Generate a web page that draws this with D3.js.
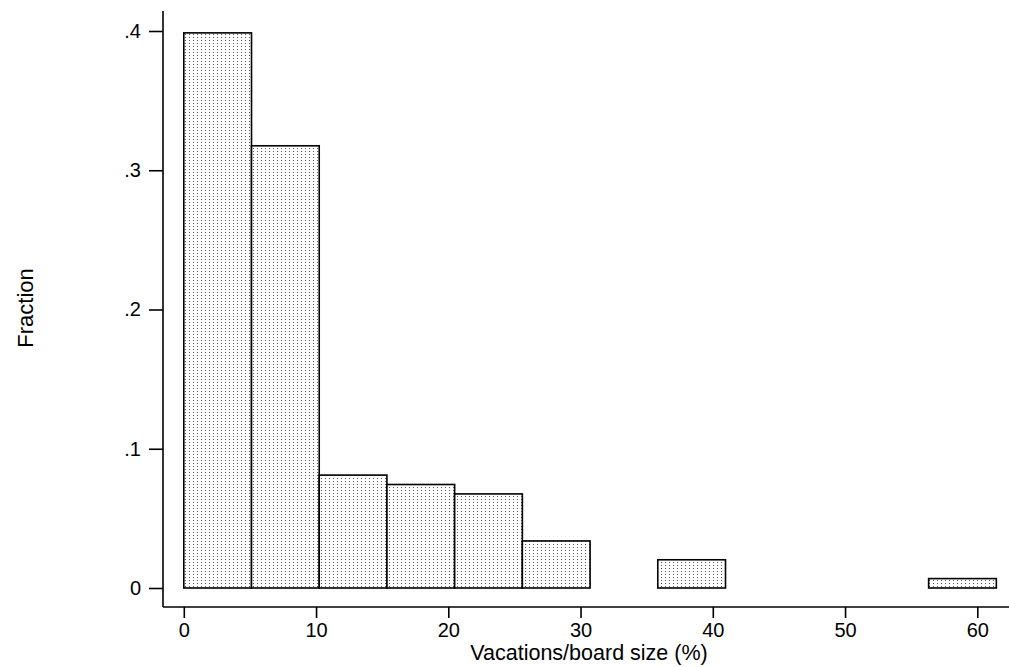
<!DOCTYPE html>
<html><head><meta charset="utf-8">
<script src="https://cdn.jsdelivr.net/npm/d3@7"></script>
<style>body{margin:0;background:#fff}svg{display:block}text{font-family:"Liberation Sans",Arial,sans-serif;fill:#000}</style>
</head><body><svg id="c" width="1009" height="667"></svg>
<script>
const binStarts = [0, 5.12, 10.24, 15.36, 20.48, 25.6, 30.72, 35.84, 40.96, 46.08, 51.2, 56.32];
const binWidth = 5.12;
const fractions = [59/148, 47/148, 12/148, 11/148, 10/148, 5/148, 0, 3/148, 0, 0, 0, 1/148];
const xTicks = [0, 10, 20, 30, 40, 50, 60];
const yTicks = [0, 0.1, 0.2, 0.3, 0.4];
const yTickLabels = ["0", ".1", ".2", ".3", ".4"];

const svg = d3.select("#c");
const x = d3.scaleLinear().domain([0, 60]).range([183.8, 977.3]);
const y = d3.scaleLinear().domain([0, 0.4]).range([588, 31]);

const defs = svg.append("defs");
const pat = defs.append("pattern").attr("id","dots").attr("patternUnits","userSpaceOnUse")
  .attr("width",4).attr("height",3);
pat.append("rect").attr("width",4).attr("height",3).attr("fill","#fff");
pat.append("rect").attr("x",1).attr("y",1).attr("width",1).attr("height",1).attr("fill","#555");

// bars
svg.append("g").selectAll("rect").data(binStarts.map((s,i)=>({s, v:fractions[i]})).filter(d=>d.v>0))
  .join("rect")
  .attr("x", d=>x(d.s)).attr("width", d=>x(d.s+binWidth)-x(d.s))
  .attr("y", d=>y(d.v)).attr("height", d=>y(0)-y(d.v))
  .attr("fill","url(#dots)").attr("stroke","#000").attr("stroke-width",1.6);

// y axis
const yAxis = d3.axisLeft(y).tickValues(yTicks).tickFormat((d,i)=>yTickLabels[i]).tickSize(14).tickPadding(8);
const gy = svg.append("g").attr("transform","translate(163,0)").call(yAxis);
gy.select(".domain").remove();
gy.append("line").attr("x1",0).attr("x2",0).attr("y1",11).attr("y2",607).attr("stroke","#000").attr("stroke-width",1.6);
gy.selectAll(".tick line").attr("stroke","#000").attr("stroke-width",1.6);
gy.selectAll(".tick text").attr("font-size",20).attr("font-family","Liberation Sans, Arial, sans-serif").attr("fill","#000");

// x axis
const xAxis = d3.axisBottom(x).tickValues(xTicks).tickSize(11).tickPadding(5);
const gx = svg.append("g").attr("transform","translate(0,607)").call(xAxis);
gx.select(".domain").remove();
gx.append("line").attr("x1",163).attr("x2",1009).attr("y1",0).attr("y2",0).attr("stroke","#000").attr("stroke-width",1.6);
gx.selectAll(".tick line").attr("stroke","#000").attr("stroke-width",1.6);
gx.selectAll(".tick text").attr("font-size",20).attr("font-family","Liberation Sans, Arial, sans-serif").attr("fill","#000");

svg.append("text").attr("x",589).attr("y",660).attr("text-anchor","middle").attr("font-size",21.5)
  .text("Vacations/board size (%)");
svg.append("text").attr("transform","translate(33,308) rotate(-90)").attr("text-anchor","middle").attr("font-size",22)
  .text("Fraction");
</script></body></html>
